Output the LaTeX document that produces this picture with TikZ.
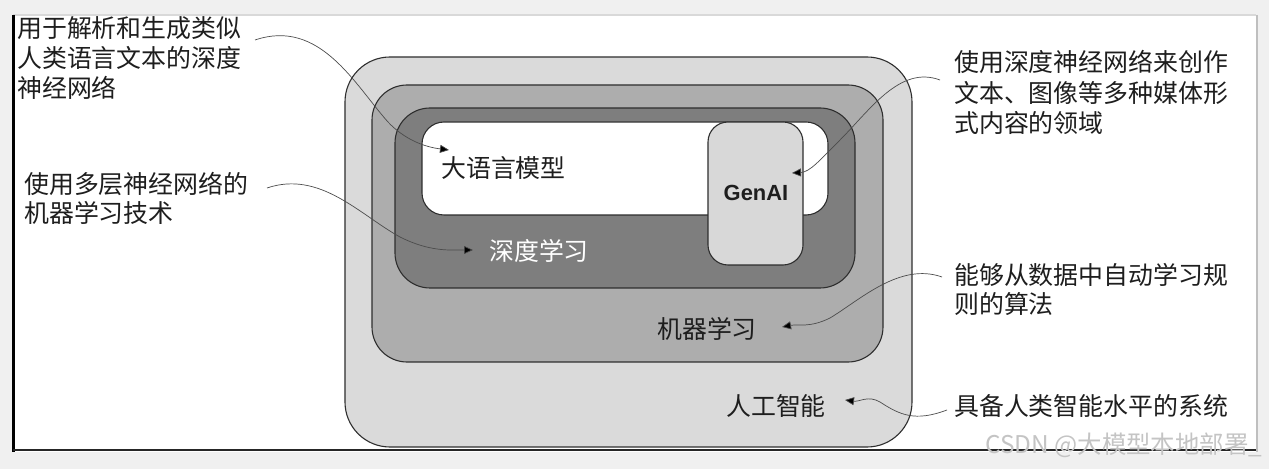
\documentclass[tikz,border=0pt]{standalone}
\usepackage{fontspec}
\setmainfont{Noto Sans CJK SC}
\newfontfamily\latinbold{Liberation Sans}[BoldFont={Liberation Sans Bold}]
\usetikzlibrary{arrows.meta}
\definecolor{pagegray}{HTML}{F0F0F0}
\definecolor{aigray}{HTML}{DADADA}
\definecolor{mlgray}{HTML}{ADADAD}
\definecolor{dlgray}{HTML}{7E7E7E}
\definecolor{genaigray}{HTML}{D8D8D8}
\definecolor{boxline}{HTML}{2E2E2E}
\definecolor{textc}{HTML}{1E1E1E}
\definecolor{wmgray}{HTML}{C4C4C4}
\begin{document}
\begin{tikzpicture}[x=1bp,y=-1bp,
  box/.style={draw=boxline, line width=1.1bp, rounded corners=#1, inner sep=0pt},
  box/.default=20bp,
  lbl/.style={inner sep=0pt, anchor=west, text=textc, font=\fontsize{25}{30}\selectfont},
  conn/.style={draw=black!70, line width=0.7bp, -{Triangle[length=9bp,width=8bp,fill=black]}}]
\useasboundingbox (0,0) rectangle (1269,469);
% page
\fill[pagegray] (0,0) rectangle (1269,469);
\fill[white] (13,15) rectangle (1256,452);
\draw[black!15, line width=1.5bp] (13,15) -- (1256,15);
\draw[black!25, line width=2bp] (1257,15) -- (1257,452);
\draw[black, line width=3bp] (13.5,15) -- (13.5,452);
\draw[black!85, line width=2bp] (13,450.5) -- (1256,450.5);
% nested boxes
\node[box=45bp, fill=aigray, minimum width=567bp, minimum height=390bp] (ai) at (628.5,252) {};
\node[box=35bp, fill=mlgray, minimum width=511bp, minimum height=277bp] (ml) at (627.5,223.5) {};
\node[box=35bp, fill=dlgray, minimum width=460bp, minimum height=180bp] (dl) at (625,198) {};
\node[box=22bp, fill=white, minimum width=406bp, minimum height=93bp] (llm) at (625,168.5) {};
\node[box=20bp, fill=genaigray, minimum width=95bp, minimum height=143bp] (genai) at (755.5,193.5) {};
% box labels
\node[lbl] (llmlbl) at (441,168) {大语言模型};
\node[inner sep=0pt, text=textc, font=\latinbold\bfseries\fontsize{22}{26}\selectfont] (genailbl) at (756,193) {GenAI};
\node[lbl, text=white] (dllbl) at (489,251) {深度学习};
\node[lbl] (mllbl) at (657,329) {机器学习};
\node[lbl] (ailbl) at (726,406) {人工智能};
% left notes
\node[lbl] (l1a) at (17,28) {用于解析和生成类似};
\node[lbl] (l1b) at (17,58) {人类语言文本的深度};
\node[lbl] (l1c) at (17,88) {神经网络};
\node[lbl] (l2a) at (24,184) {使用多层神经网络的};
\node[lbl] (l2b) at (24,213) {机器学习技术};
% right notes
\node[lbl] (r1a) at (954,62) {使用深度神经网络来创作};
\node[lbl] (r1b) at (954,93) {文本、图像等多种媒体形};
\node[lbl] (r1c) at (954,123) {式内容的领域};
\node[lbl] (r2a) at (954,275) {能够从数据中自动学习规};
\node[lbl] (r2b) at (954,304) {则的算法};
\node[lbl] (r3) at (954,406) {具备人类智能水平的系统};
% connector end points
\coordinate (s1) at (255,40);  \coordinate (e1) at (449,150);
\coordinate (s2) at (267,188); \coordinate (e2) at (473,250);
\coordinate (s3) at (940,80);  \coordinate (e3) at (792,173);
\coordinate (s4) at (942,277); \coordinate (e4) at (782,327);
\coordinate (s5) at (947,410); \coordinate (e5) at (845,400);
% connectors
\draw[conn] (s1) .. controls (320,18) and (355,85) .. (388,122) .. controls (405,140) and (425,147) .. (e1);
\draw[conn] (s2) .. controls (320,170) and (360,215) .. (400,237) .. controls (430,252) and (450,250) .. (e2);
\draw[conn] (s3) .. controls (900,65) and (870,110) .. (840,140) .. controls (820,160) and (810,172) .. (e3);
\draw[conn] (s4) .. controls (900,262) and (860,300) .. (830,318) .. controls (810,328) and (798,324) .. (e4);
\draw[conn] (s5) .. controls (915,422) and (900,415) .. (880,402) .. controls (868,395) and (860,402) .. (e5);
% watermark
\node[inner sep=0pt, anchor=west, text=wmgray, font=\fontsize{24.5}{28}\selectfont] (wm) at (985,445) {CSDN @大模型本地部署\_};
\end{tikzpicture}
\end{document}
